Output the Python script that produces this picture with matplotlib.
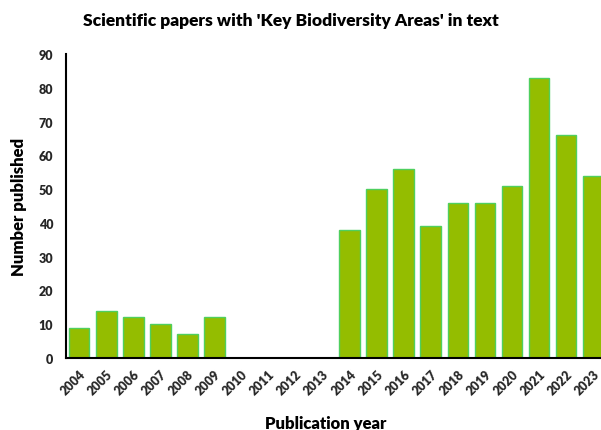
import matplotlib
matplotlib.use("Agg")
import matplotlib.pyplot as plt

years = [str(y) for y in range(2004, 2024)]
papers = [9, 14, 12, 10, 7, 12, 0, 0, 0, 0, 38, 50, 56, 39, 46, 46, 51, 83, 66, 54]
yticks = [0, 10, 20, 30, 40, 50, 60, 70, 80, 90]

plt.rcParams['font.family'] = ['Lato', 'DejaVu Sans']

fig = plt.figure(figsize=(6.01, 4.31), dpi=100)
W, H = 601, 431
left, right = 65.7, 606.5
bottom, top = 359, 55
ax = fig.add_axes([left / W, (H - bottom) / H, (right - left) / W, (bottom - top) / H])

x = list(range(len(years)))
ax.bar(x, papers, width=0.76, color='#94bd00', edgecolor='#4fcf5e', linewidth=1.0, zorder=2)
ax.set_xlim(-0.5, 19.5)
ax.set_ylim(0, 90)
ax.set_yticks(yticks)
ax.set_yticklabels([str(v) for v in yticks], fontsize=9, fontweight='heavy', color='#262626')
ax.set_xticks(x)
ax.set_xticklabels(years, rotation=45, ha='right', rotation_mode='anchor', fontsize=9, fontweight='heavy', color='#262626')
ax.tick_params(axis='both', length=0)
ax.tick_params(axis='y', pad=9)
ax.tick_params(axis='x', pad=7)
for s in ['top', 'right']:
    ax.spines[s].set_visible(False)
ax.spines['left'].set_linewidth(1.5)
ax.spines['bottom'].set_linewidth(1.5)
ax.spines['left'].set_color('black')
ax.spines['bottom'].set_color('black')

fig.text(291 / W, 1 - 21 / H, "Scientific papers with 'Key Biodiversity Areas' in text",
         ha='center', va='center', fontsize=12.5, fontweight='heavy', color='black')
fig.text(19 / W, 1 - 207 / H, "Number published", rotation=90, ha='center', va='center',
         fontsize=12, fontweight='heavy', color='black')
fig.text(326 / W, 1 - 424 / H, "Publication year", ha='center', va='center',
         fontsize=12, fontweight='heavy', color='black')

fig.savefig('out.png', dpi=100)
